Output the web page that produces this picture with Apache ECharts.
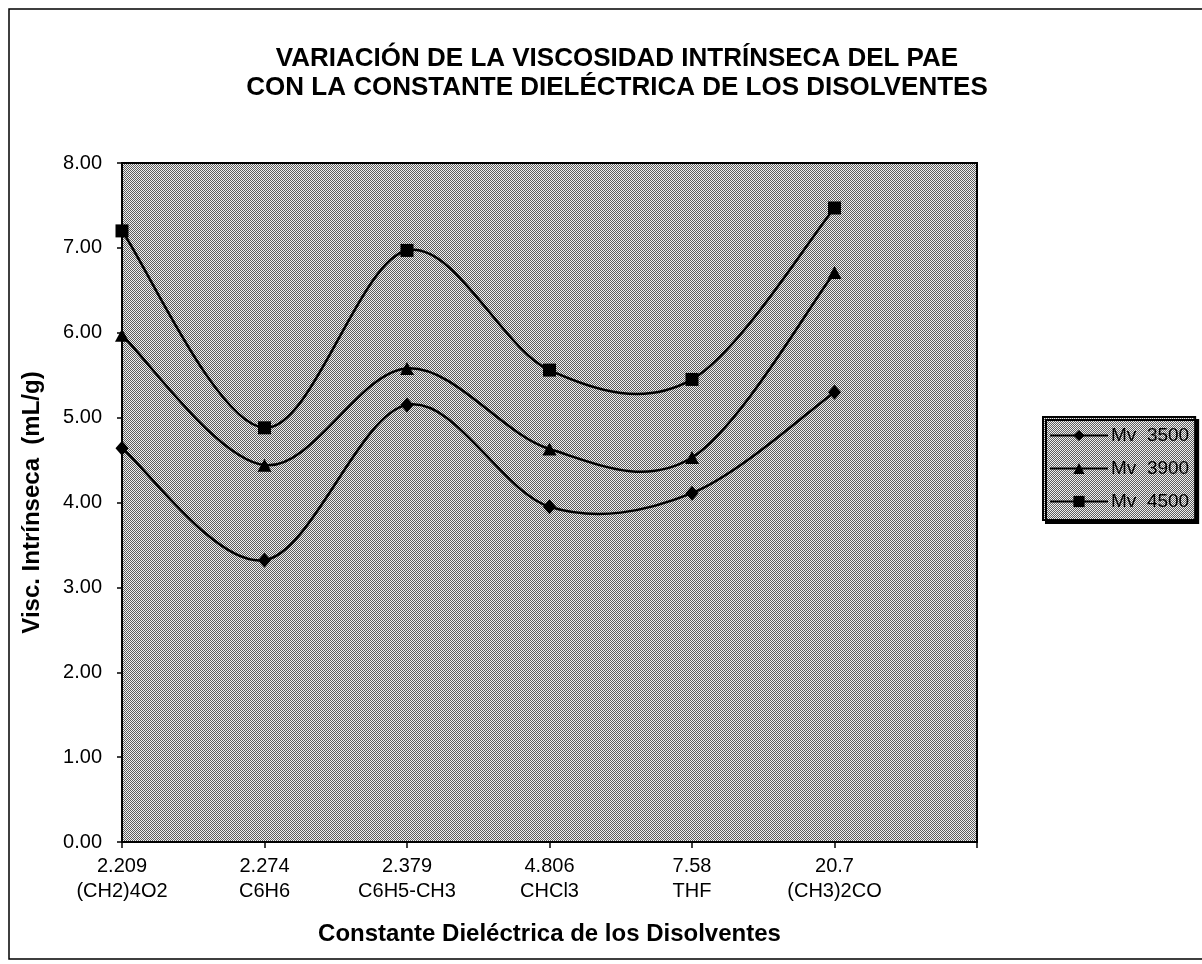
<!DOCTYPE html>
<html>
<head>
<meta charset="utf-8">
<title>Viscosidad intrínseca del PAE</title>
<script src="https://cdn.jsdelivr.net/npm/echarts@6/dist/echarts.min.js"></script>
<style>
  html, body { margin: 0; padding: 0; background: #ffffff; }
  #chart { width: 1202px; height: 964px; }
</style>
</head>
<body>
<div id="chart"></div>
<script>
// Dielectric constant of each solvent and the solvent formula (x axis)
const dielectric = ['2.209', '2.274', '2.379', '4.806', '7.58', '20.7'];
const solvents = ['(CH2)4O2', 'C6H6', 'C6H5-CH3', 'CHCl3', 'THF', '(CH3)2CO'];

// Intrinsic viscosity (mL/g) for each molecular weight
const mv3500 = [4.64, 3.32, 5.15, 3.95, 4.11, 5.30];
const mv3900 = [5.97, 4.44, 5.58, 4.63, 4.53, 6.71];
const mv4500 = [7.20, 4.88, 6.97, 5.56, 5.45, 7.47];

const seriesNames = ['Mv  3500', 'Mv  3900', 'Mv  4500'];
const yTicks = [0, 1, 2, 3, 4, 5, 6, 7, 8];

const FONT = '"Liberation Sans", Arial, sans-serif';

// Halftone-like grey fill used for the plot area and the legend box
function halftone() {
  const c = document.createElement('canvas');
  c.width = 4; c.height = 4;
  const g = c.getContext('2d');
  g.fillStyle = '#f0f0f0';
  g.fillRect(0, 0, 4, 4);
  g.fillStyle = '#5e5e5e';
  for (let y = 0; y < 4; y++) {
    for (let x = 0; x < 4; x++) {
      if ((x + y) % 2 === 0) g.fillRect(x, y, 1, 1);
    }
  }
  return { image: c, repeat: 'repeat' };
}
const fill = halftone();

// One extra empty slot keeps the right margin of the plot
const categories = dielectric.map((d, i) => d + '\n' + solvents[i]).concat(['']);

const chart = echarts.init(document.getElementById('chart'), null, { renderer: 'canvas' });

// Markers (and legend entries); the connecting curve is drawn by smoothCurve()
const markerSeries = (name, values, symbol, size) => ({
  name: name,
  type: 'line',
  data: values,
  symbol: symbol,
  symbolSize: size,
  showAllSymbol: true,
  lineStyle: { color: '#000', width: 2.5, opacity: 0 },
  itemStyle: { color: '#000', borderColor: '#000', borderWidth: 0 },
  emphasis: { disabled: true },
  animation: false,
  z: 4
});

// Cardinal (Catmull-Rom) spline through the data points, positioned by the axes
const smoothCurve = (name, values) => ({
  name: name,
  type: 'custom',
  data: values.map((v, i) => [i, v]),
  silent: true,
  animation: false,
  z: 3,
  renderItem: (params, api) => {
    if (params.dataIndex !== 0) return null;
    const pts = values.map((v, i) => api.coord([i, v]));
    const n = pts.length;
    const children = [];
    for (let i = 0; i < n - 1; i++) {
      const p0 = pts[Math.max(i - 1, 0)];
      const p1 = pts[i];
      const p2 = pts[i + 1];
      const p3 = pts[Math.min(i + 2, n - 1)];
      children.push({
        type: 'bezierCurve',
        shape: {
          x1: p1[0], y1: p1[1],
          cpx1: p1[0] + (p2[0] - p0[0]) / 6, cpy1: p1[1] + (p2[1] - p0[1]) / 6,
          cpx2: p2[0] - (p3[0] - p1[0]) / 6, cpy2: p2[1] - (p3[1] - p1[1]) / 6,
          x2: p2[0], y2: p2[1]
        },
        style: { fill: null, stroke: '#000', lineWidth: 2.5 }
      });
    }
    return { type: 'group', children: children };
  }
});

chart.setOption({
  animation: false,
  backgroundColor: '#ffffff',
  textStyle: { fontFamily: FONT, color: '#000' },
  title: {
    text: 'VARIACIÓN DE LA VISCOSIDAD INTRÍNSECA DEL PAE\nCON LA CONSTANTE DIELÉCTRICA DE LOS DISOLVENTES',
    left: 612,
    top: 39,
    textAlign: 'center',
    textStyle: {
      fontFamily: FONT,
      fontSize: 26,
      fontWeight: 'bold',
      color: '#000',
      lineHeight: 29,
      align: 'center'
    }
  },
  graphic: [{
    type: 'rect',
    shape: { x: 9, y: 9, width: 1200, height: 950 },
    style: { fill: null, stroke: '#000', lineWidth: 1.5 },
    silent: true,
    z: -1
  }],
  legend: {
    orient: 'vertical',
    left: 1043,
    top: 417,
    padding: [9, 6, 9, 6],
    itemWidth: 58,
    itemHeight: 14,
    itemGap: 14,
    backgroundColor: fill,
    borderColor: '#000',
    borderWidth: 2,
    shadowColor: '#000',
    shadowOffsetX: 3,
    shadowOffsetY: 3,
    shadowBlur: 0,
    lineStyle: { color: '#000', width: 2, opacity: 1 },
    textStyle: { fontFamily: FONT, fontSize: 19, color: '#000', padding: [0, 0, 0, -2] },
    data: seriesNames
  },
  grid: {
    left: 122,
    right: 225,
    top: 163,
    bottom: 122,
    show: true,
    backgroundColor: fill,
    borderColor: '#000',
    borderWidth: 2
  },
  xAxis: {
    type: 'category',
    data: categories,
    boundaryGap: false,
    name: 'Constante Dieléctrica de los Disolventes',
    nameLocation: 'middle',
    nameGap: 80,
    nameTextStyle: { fontFamily: FONT, fontSize: 24, fontWeight: 'bold', color: '#000' },
    axisLine: { lineStyle: { color: '#000', width: 2 } },
    axisTick: { show: true, length: 6, lineStyle: { color: '#000', width: 1.5 }, alignWithLabel: true },
    axisLabel: {
      fontFamily: FONT,
      fontSize: 20,
      color: '#000',
      lineHeight: 25,
      margin: 12,
      interval: 0
    },
    splitLine: { show: false }
  },
  yAxis: {
    type: 'value',
    min: yTicks[0],
    max: yTicks[yTicks.length - 1],
    interval: 1,
    name: 'Visc. Intrínseca  (mL/g)',
    nameLocation: 'middle',
    nameGap: 78,
    nameTextStyle: { fontFamily: FONT, fontSize: 24, fontWeight: 'bold', color: '#000' },
    axisLine: { show: true, lineStyle: { color: '#000', width: 2 } },
    axisTick: { show: true, length: 5, lineStyle: { color: '#000', width: 1.5 } },
    axisLabel: {
      fontFamily: FONT,
      fontSize: 20,
      color: '#000',
      margin: 20,
      formatter: v => v.toFixed(2)
    },
    splitLine: { show: false }
  },
  series: [
    smoothCurve('curva 3500', mv3500),
    smoothCurve('curva 3900', mv3900),
    smoothCurve('curva 4500', mv4500),
    markerSeries(seriesNames[0], mv3500, 'diamond', [13, 15]),
    markerSeries(seriesNames[1], mv3900, 'triangle', [14, 13]),
    markerSeries(seriesNames[2], mv4500, 'rect', 13)
  ]
});
</script>
</body>
</html>
